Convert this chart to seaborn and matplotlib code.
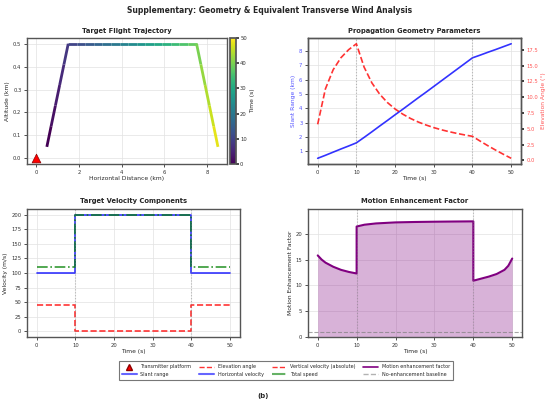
import matplotlib
import matplotlib.pyplot as plt
import numpy as np
import pandas as pd
import seaborn as sns
from matplotlib.collections import LineCollection
from matplotlib.lines import Line2D

matplotlib.use("Agg")

sns.set_theme(style="whitegrid")
plt.rcParams["font.family"] = ["DejaVu Sans"]

# trajectory samples (s, km, km)
traj_t = [0, 2, 4, 6, 8, 10, 12, 14, 16, 18, 20, 22, 24, 26, 28, 30,
          32, 34, 36, 38, 40, 42, 44, 46, 48, 50]
traj_x = [0.5, 0.7, 0.9, 1.1, 1.3, 1.5, 1.9, 2.3, 2.7, 3.1, 3.5, 3.9, 4.3,
          4.7, 5.1, 5.5, 5.9, 6.3, 6.7, 7.1, 7.5, 7.7, 7.9, 8.1, 8.3, 8.5]
traj_alt = [0.05, 0.14, 0.23, 0.32, 0.41, 0.5, 0.5, 0.5, 0.5, 0.5, 0.5, 0.5,
            0.5, 0.5, 0.5, 0.5, 0.5, 0.5, 0.5, 0.5, 0.5, 0.41, 0.32, 0.23,
            0.14, 0.05]

# propagation geometry
slant_range = [0.50, 0.71, 0.93, 1.15, 1.36, 1.58, 1.96, 2.35, 2.75, 3.14,
               3.54, 3.93, 4.33, 4.73, 5.12, 5.52, 5.92, 6.32, 6.72, 7.12,
               7.52, 7.71, 7.91, 8.10, 8.30, 8.50]
elev_angle = [5.71, 11.31, 14.33, 16.22, 17.50, 18.43, 14.74, 12.26, 10.49,
              9.16, 8.13, 7.31, 6.63, 6.07, 5.60, 5.19, 4.84, 4.54, 4.27,
              4.03, 3.81, 3.05, 2.32, 1.63, 0.97, 0.34]

# velocity components (step profile)
vel_t = [0, 10, 10, 40, 40, 50]
vel_horiz = [100, 100, 200, 200, 100, 100]
vel_vert = [45, 45, 0, 0, 45, 45]
vel_total = [110, 110, 200, 200, 110, 110]

# motion enhancement factor
mef_t = [0, 1, 2, 3, 4, 5, 6, 7, 8, 9, 10, 10, 12, 15, 20, 25, 30, 35, 40,
         40, 42, 44, 46, 48, 49, 50]
mef = [15.8, 15.0, 14.4, 14.0, 13.6, 13.3, 13.0, 12.8, 12.6, 12.45, 12.3,
       21.4, 21.75, 22.0, 22.2, 22.28, 22.33, 22.37, 22.4, 10.9, 11.3, 11.7,
       12.2, 13.0, 13.8, 15.2]

phase_marks = [10, 40]

TICK = 3.8
LABEL = 4.3
TITLE = 4.9


def style_axes(ax):
    for s in ax.spines.values():
        s.set_color("#555555")
        s.set_linewidth(1.0)
    ax.grid(True, color="#e2e2e2", linewidth=0.5)
    ax.tick_params(labelsize=TICK, length=2, width=0.6, pad=2,
                   left=True, bottom=True, colors="#333333")


fig = plt.figure(figsize=(5.5, 4.05), dpi=100)
ax1 = fig.add_axes([0.049, 0.595, 0.364, 0.311])
cax = fig.add_axes([0.418, 0.595, 0.011, 0.311])
ax2 = fig.add_axes([0.560, 0.595, 0.387, 0.311])
ax3 = fig.add_axes([0.049, 0.168, 0.387, 0.316])
ax4 = fig.add_axes([0.560, 0.168, 0.389, 0.316])

# --- trajectory
pts = np.column_stack([traj_x, traj_alt]).reshape(-1, 1, 2)
segs = np.concatenate([pts[:-1], pts[1:]], axis=1)
lc = LineCollection(segs, cmap="viridis", norm=plt.Normalize(0, 50), linewidth=2)
lc.set_array(np.array(traj_t[:-1]))
ax1.add_collection(lc)
ax1.scatter([0], [0], marker="^", s=40, color="red", edgecolor="darkred",
            linewidth=0.5, zorder=5)
ax1.set_xlim(-0.43, 8.93)
ax1.set_ylim(-0.025, 0.525)
ax1.set_xticks([0, 2, 4, 6, 8])
ax1.set_title("Target Flight Trajectory", fontsize=TITLE, fontweight="bold", pad=4)
ax1.set_xlabel("Horizontal Distance (km)", fontsize=LABEL, labelpad=1)
ax1.set_ylabel("Altitude (km)", fontsize=LABEL, labelpad=2)
style_axes(ax1)
cb = fig.colorbar(lc, cax=cax)
cb.set_ticks([0, 10, 20, 30, 40, 50])
cb.ax.tick_params(labelsize=TICK, length=2, pad=1, colors="#333333")
cb.set_label("Time (s)", fontsize=LABEL, labelpad=2)
cb.outline.set_edgecolor("#555555")

# --- geometry
geo = pd.DataFrame({"t": traj_t, "r": slant_range, "el": elev_angle})
sns.lineplot(data=geo, x="t", y="r", ax=ax2, color="blue", alpha=0.8,
             linewidth=1.2)
ax2b = ax2.twinx()
sns.lineplot(data=geo, x="t", y="el", ax=ax2b, color="red", alpha=0.8,
             linewidth=1.2, linestyle="--")
for t in phase_marks:
    ax2.axvline(t, color="gray", linestyle=":", linewidth=0.8, alpha=0.5)
ax2.set_title("Propagation Geometry Parameters", fontsize=TITLE,
              fontweight="bold", pad=4)
ax2.set_xlabel("Time (s)", fontsize=LABEL, labelpad=1)
ax2.set_ylabel("Slant Range (km)", fontsize=LABEL, color="#5555ff", labelpad=2)
ax2b.set_ylabel("Elevation Angle (°)", fontsize=LABEL, color="#ff5555", labelpad=2)
ax2.set_xticks([0, 10, 20, 30, 40, 50])
style_axes(ax2)
ax2.tick_params(axis="y", labelcolor="#5555ff", labelsize=TICK)
ax2b.tick_params(axis="y", labelcolor="#ff5555", labelsize=TICK, length=2,
                 pad=2, right=True)
ax2b.grid(False)
for s in ax2b.spines.values():
    s.set_color("#555555")
    s.set_linewidth(1.0)
ax2b.set_yticks(np.arange(0, 18, 2.5))
ax2.set_yticks([1, 2, 3, 4, 5, 6, 7, 8])

# --- velocity
vel = pd.DataFrame({"t": vel_t, "h": vel_horiz, "v": vel_vert, "s": vel_total})
sns.lineplot(data=vel, x="t", y="h", ax=ax3, color="blue", linewidth=1.2,
             alpha=0.8, estimator=None, sort=False)
sns.lineplot(data=vel, x="t", y="v", ax=ax3, color="red", linewidth=1.2,
             alpha=0.8, linestyle="--", estimator=None, sort=False)
sns.lineplot(data=vel, x="t", y="s", ax=ax3, color="green", linewidth=1.2,
             alpha=0.8, linestyle="-.", estimator=None, sort=False)
for t in phase_marks:
    ax3.axvline(t, color="gray", linestyle=":", linewidth=0.8, alpha=0.5)
ax3.set_title("Target Velocity Components", fontsize=TITLE, fontweight="bold", pad=4)
ax3.set_xlabel("Time (s)", fontsize=LABEL, labelpad=1)
ax3.set_ylabel("Velocity (m/s)", fontsize=LABEL, labelpad=2)
ax3.set_xticks([0, 10, 20, 30, 40, 50])
ax3.set_yticks(np.arange(0, 201, 25))
style_axes(ax3)

# --- motion enhancement
mdf = pd.DataFrame({"t": mef_t, "m": mef})
ax4.fill_between(mef_t, 0, mef, color="purple", alpha=0.3, linewidth=0)
sns.lineplot(data=mdf, x="t", y="m", ax=ax4, color="purple", linewidth=1.5,
             estimator=None, sort=False)
ax4.axhline(1, color="gray", linestyle="--", linewidth=0.8, alpha=0.7)
for t in phase_marks:
    ax4.axvline(t, color="gray", linestyle=":", linewidth=0.8, alpha=0.5)
ax4.set_ylim(0, 24.8)
ax4.set_title("Motion Enhancement Factor", fontsize=TITLE, fontweight="bold", pad=4)
ax4.set_xlabel("Time (s)", fontsize=LABEL, labelpad=1)
ax4.set_ylabel("Motion Enhancement Factor", fontsize=LABEL, labelpad=2)
ax4.set_xticks([0, 10, 20, 30, 40, 50])
ax4.set_yticks([0, 5, 10, 15, 20])
style_axes(ax4)

handles = [
    Line2D([], [], marker="^", color="red", markeredgecolor="darkred",
           linestyle="none", markersize=4),
    Line2D([], [], color="blue", alpha=0.6, linewidth=1.5),
    Line2D([], [], color="red", alpha=0.8, linewidth=1, linestyle="--"),
    Line2D([], [], color="blue", alpha=0.6, linewidth=1.5),
    Line2D([], [], color="red", alpha=0.8, linewidth=1, linestyle="--"),
    Line2D([], [], color="green", alpha=0.6, linewidth=1.5, linestyle="-."),
    Line2D([], [], color="purple", linewidth=1.2),
    Line2D([], [], color="gray", alpha=0.6, linewidth=1, linestyle="--"),
]
labels = ["Transmitter platform", "Slant range", "Elevation angle",
          "Horizontal velocity", "Vertical velocity (absolute)", "Total speed",
          "Motion enhancement factor", "No-enhancement baseline"]
leg = fig.legend(handles, labels, loc="center", bbox_to_anchor=(0.52, 0.085),
                 ncol=4, fontsize=3.5, frameon=True, fancybox=False,
                 handlelength=3.0, columnspacing=1.6, borderpad=0.6,
                 labelspacing=0.5)
leg.get_frame().set_edgecolor("#555555")
leg.get_frame().set_linewidth(0.8)

fig.suptitle("Supplementary: Geometry & Equivalent Transverse Wind Analysis",
             fontsize=5.5, fontweight="bold", x=0.49, y=0.985)
fig.text(0.478, 0.017, "(b)", fontsize=5, fontweight="bold", ha="center")

fig.savefig("out.png", dpi=100)
plt.close(fig)
